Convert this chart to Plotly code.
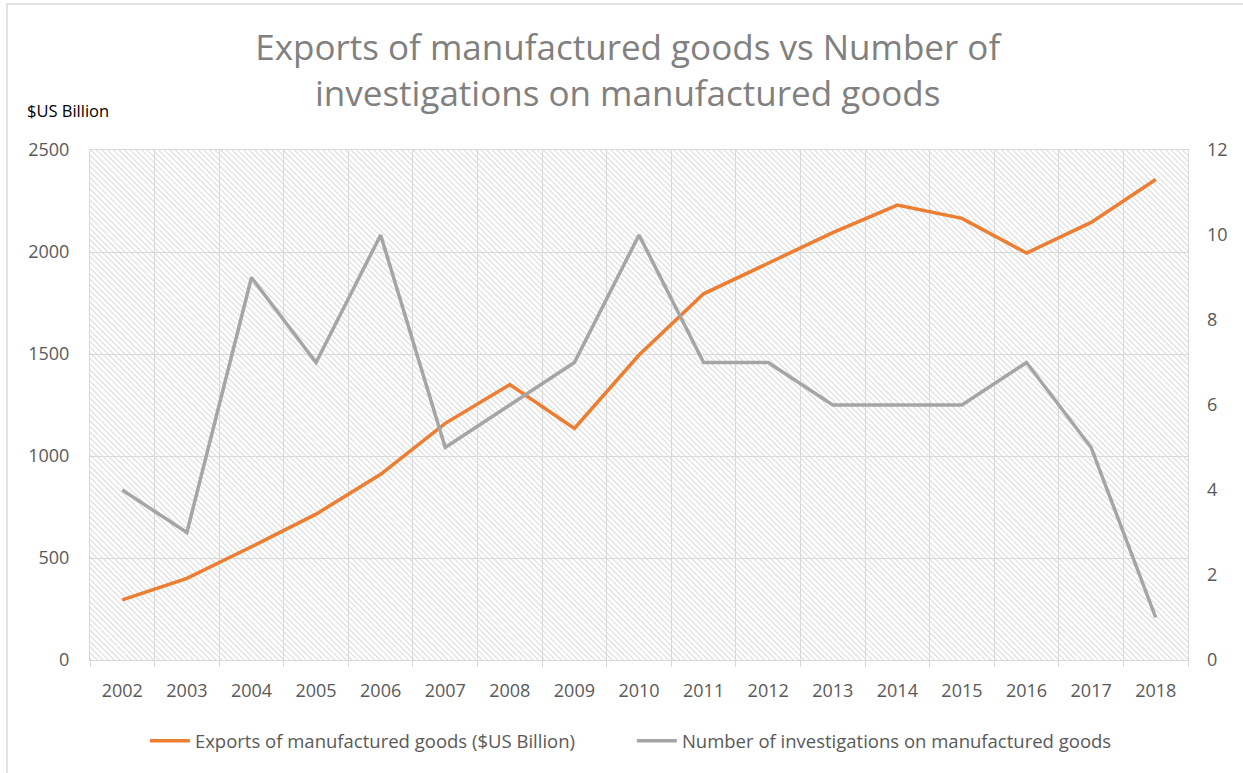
import base64
import plotly.graph_objects as go

years = [str(y) for y in range(2002, 2019)]
exports = [295, 400, 555, 715, 910, 1160, 1350, 1135, 1495, 1795, 1945, 2095, 2230, 2165, 1995, 2145, 2355]
investigations = [4, 3, 9, 7, 10, 5, 6, 7, 10, 7, 7, 6, 6, 6, 7, 5, 1]
left_ticks = [0, 500, 1000, 1500, 2000, 2500]
right_ticks = [0, 2, 4, 6, 8, 10, 12]

FONT = "'Open Sans', Lato, sans-serif"
TICK_COLOR = "#595959"
GRID = "#d9d9d9"

# hatched plot-area background (downward diagonal pattern) as an SVG image
svg = (
    '<svg xmlns="http://www.w3.org/2000/svg" width="1098" height="510">'
    '<defs><pattern id="p" width="4" height="4" patternUnits="userSpaceOnUse" '
    'patternTransform="rotate(-45)">'
    '<rect width="4" height="4" fill="white"/>'
    '<line x1="0" y1="0" x2="0" y2="4" stroke="#d9d9d9" stroke-width="2"/>'
    '</pattern></defs>'
    '<rect width="1098" height="510" fill="url(#p)"/></svg>'
)
hatch_src = "data:image/svg+xml;base64," + base64.b64encode(svg.encode()).decode()

fig = go.Figure()
fig.add_trace(go.Scatter(
    x=years, y=exports, mode="lines", name="Exports of manufactured goods ($US Billion)",
    line=dict(color="#ED7D31", width=3.5),
))
fig.add_trace(go.Scatter(
    x=years, y=investigations, mode="lines", name="Number of investigations on manufactured goods",
    line=dict(color="#A5A5A5", width=3.5), yaxis="y2",
))

fig.update_layout(
    width=1243, height=773,
    margin=dict(l=90, r=55, t=150, b=113),
    paper_bgcolor="white", plot_bgcolor="rgba(0,0,0,0)",
    font=dict(family=FONT, size=18, color=TICK_COLOR),
    title=dict(text="Exports of manufactured goods vs Number of<br>investigations on manufactured goods",
               x=0.505, xanchor="center", y=0.922, yanchor="top",
               font=dict(size=35, color="#808080", family=FONT)),
    xaxis=dict(type="category", range=[-0.5, 16.5], tickson="boundaries",
               showgrid=True, gridcolor=GRID, gridwidth=1,
               ticks="outside", ticklen=6, tickcolor=GRID,
               showline=True, linecolor=GRID, mirror=True,
               ticklabelstandoff=14,
               tickfont=dict(size=18, color=TICK_COLOR)),
    yaxis=dict(range=[0, 2500], tickvals=left_ticks, showgrid=True, gridcolor=GRID,
               zeroline=False, showline=True, linecolor=GRID, mirror=True,
               ticks="", ticklabelstandoff=16,
               tickfont=dict(size=18, color=TICK_COLOR)),
    yaxis2=dict(range=[0, 12], tickvals=right_ticks, overlaying="y", side="right",
                showgrid=False, zeroline=False, showline=False, ticks="",
                ticklabelstandoff=18, tickfont=dict(size=18, color=TICK_COLOR)),
    legend=dict(orientation="h", x=0.05, xanchor="left", y=-0.122, yanchor="top",
                font=dict(size=18.5, color=TICK_COLOR), itemwidth=40, traceorder="normal",
                entrywidth=432, entrywidthmode="pixels"),
    images=[dict(source=hatch_src, xref="paper", yref="paper", x=0, y=1, sizex=1, sizey=1,
                 xanchor="left", yanchor="top", sizing="stretch", layer="below")],
    annotations=[dict(text="$US Billion", xref="paper", yref="paper", x=-0.0592, y=1.078,
                      xanchor="left", yanchor="middle", showarrow=False,
                      font=dict(size=16.5, color="black", family=FONT))],
    shapes=[dict(type="rect", xref="paper", yref="paper", x0=-0.0756, x1=1.06, y0=-0.24, y1=1.2863,
                 line=dict(color="#d9d9d9", width=1.5), fillcolor="rgba(0,0,0,0)", layer="below")],
)

fig.write_html("out.html")
